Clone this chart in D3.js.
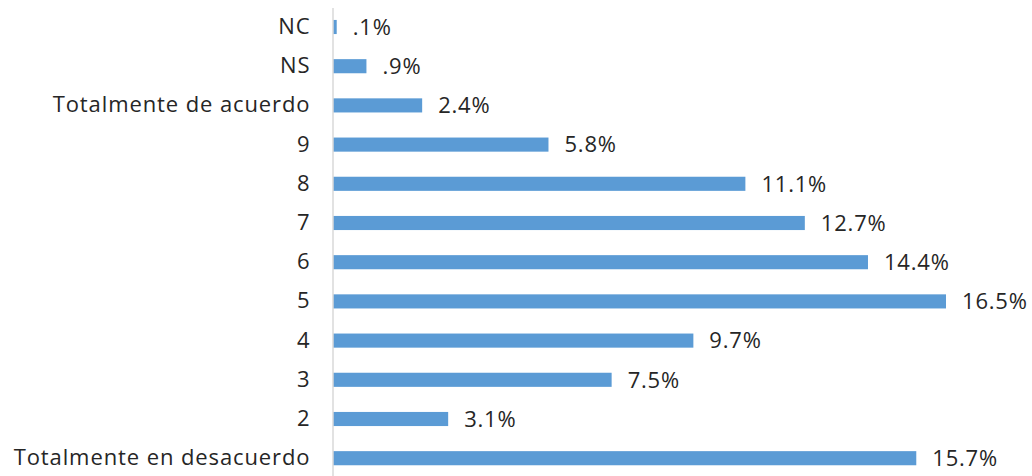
<!DOCTYPE html>
<html>
<head>
<meta charset="utf-8">
<script src="https://cdn.jsdelivr.net/npm/d3@7"></script>
<style>
  body { margin: 0; background: #fff; }
  text { font-family: "Open Sans", Lato, sans-serif; font-weight: 400; fill: #262626; }
</style>
</head>
<body>
<div class="chart_box"></div>
<script>
// categories from top to bottom
const categories = ["NC", "NS", "Totalmente de acuerdo", "9", "8", "7", "6", "5", "4", "3", "2", "Totalmente en desacuerdo"];
const values = [0.1, 0.9, 2.4, 5.8, 11.1, 12.7, 14.4, 16.5, 9.7, 7.5, 3.1, 15.7];
const valueLabels = [".1%", ".9%", "2.4%", "5.8%", "11.1%", "12.7%", "14.4%", "16.5%", "9.7%", "7.5%", "3.1%", "15.7%"];

const rows = categories.map((c, i) => ({ cat: c, value: values[i], label: valueLabels[i] }));

const svg = d3
  .select(".chart_box")
  .append("svg")
  .attr("width", 1032)
  .attr("height", 476);

const xScale = d3.scaleLinear().domain([0, 16.5]).range([333, 946]);

const yScale = d3
  .scaleBand()
  .domain(categories)
  .range([7.4, 477.8])
  .paddingInner(0.64)
  .paddingOuter(0.32);

// bars
svg
  .selectAll("rect.bar")
  .data(rows)
  .enter()
  .append("rect")
  .attr("class", "bar")
  .attr("x", xScale(0))
  .attr("y", (d) => yScale(d.cat))
  .attr("width", (d) => xScale(d.value) - xScale(0))
  .attr("height", yScale.bandwidth())
  .attr("fill", "#5b9bd5");

// vertical axis line with category labels
const yAxis = svg
  .append("g")
  .attr("transform", "translate(332.5, 0)")
  .call(d3.axisLeft(yScale).tickSize(0).tickPadding(22));

yAxis.select(".domain").attr("stroke", "#d9d9d9").attr("stroke-width", 1.5);
yAxis
  .selectAll("text")
  .style("font-family", "'Open Sans', Lato, sans-serif")
  .style("font-weight", 400)
  .style("font-size", "22px")
  .style("letter-spacing", "0.9px")
  .attr("fill", "#262626");

// value labels
svg
  .selectAll("text.val")
  .data(rows)
  .enter()
  .append("text")
  .attr("class", "val")
  .attr("x", (d) => xScale(d.value) + 16)
  .attr("y", (d) => yScale(d.cat) + yScale.bandwidth() / 2)
  .attr("dy", "0.35em")
  .style("font-size", "22px")
  .style("letter-spacing", "0.8px")
  .text((d) => d.label);
</script>
</body>
</html>
